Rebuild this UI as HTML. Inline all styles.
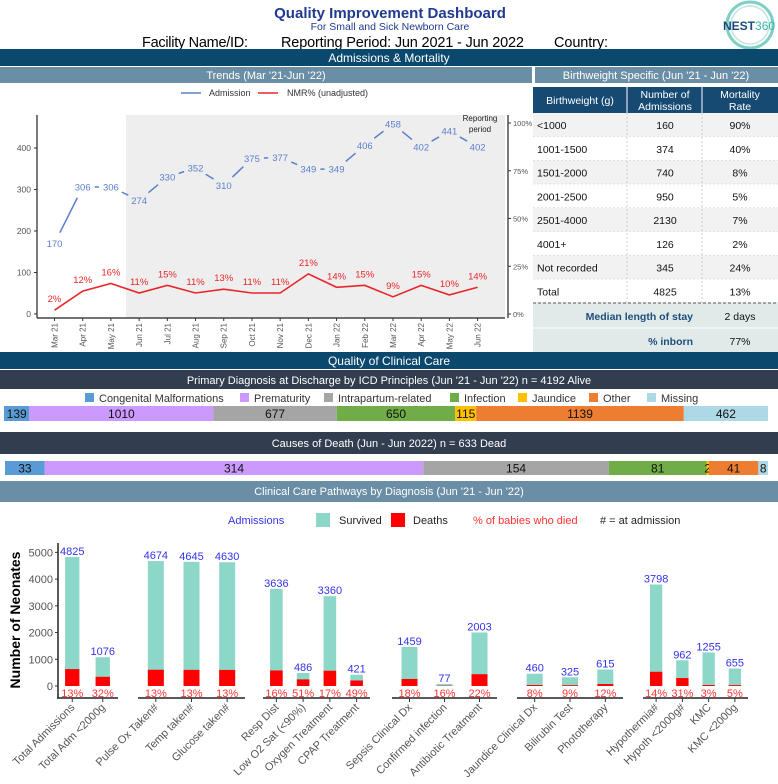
<!DOCTYPE html>
<html><head><meta charset="utf-8"><style>
html,body{margin:0;padding:0;background:#fff;}
svg{display:block;font-family:"Liberation Sans",sans-serif;}
</style></head><body>
<svg id="s" width="778" height="784" viewBox="0 0 778 784" xmlns="http://www.w3.org/2000/svg">
<!-- header -->
<text x="390" y="18" text-anchor="middle" font-size="15" font-weight="bold" fill="#1f3a8f">Quality Improvement Dashboard</text>
<text x="390" y="30" text-anchor="middle" font-size="10.5" fill="#1f3a8f">For Small and Sick Newborn Care</text>
<text x="142" y="47" font-size="14.5" fill="#000" textLength="106">Facility Name/ID:</text>
<text x="281" y="47" font-size="14.5" fill="#000" textLength="243">Reporting Period: Jun 2021 - Jun 2022</text>
<text x="554" y="47" font-size="14.5" fill="#000" textLength="54">Country:</text>
<g>
<circle cx="750" cy="25" r="23" fill="none" stroke="#7fcfc4" stroke-width="3"/>
<circle cx="750" cy="25" r="19" fill="none" stroke="#bfe8e2" stroke-width="1.5"/>
<text x="723" y="30" font-size="12" font-weight="bold" fill="#1a4a7a">NEST<tspan fill="#3bb3a8" font-weight="normal">360</tspan></text>
</g>
<!-- bands -->
<rect x="0" y="49" width="778" height="17" fill="#0b486e"/>
<text x="389" y="62" text-anchor="middle" font-size="12" fill="#fff">Admissions &amp; Mortality</text>
<rect x="0" y="67" width="532" height="16" fill="#6a8ea6"/>
<text x="266" y="79" text-anchor="middle" font-size="11" fill="#fff">Trends (Mar '21-Jun '22)</text>
<rect x="535" y="67" width="243" height="16" fill="#6a8ea6"/>
<text x="656" y="79" text-anchor="middle" font-size="11" fill="#fff">Birthweight Specific (Jun '21 - Jun '22)</text>
<!-- trend chart -->
<g id="trend">
<rect x="126" y="115" width="379" height="203" fill="#eeeeee"/>
<text x="480" y="121" text-anchor="middle" font-size="8" fill="#222">Reporting</text>
<text x="480" y="132" text-anchor="middle" font-size="8" fill="#222">period</text>
<line x1="181" y1="93" x2="201" y2="93" stroke="#5b7fcc" stroke-width="1.5"/>
<text x="209" y="96" font-size="9" fill="#333">Admission</text>
<line x1="258" y1="93" x2="278" y2="93" stroke="#e8262a" stroke-width="1.5"/>
<text x="287" y="96" font-size="9" fill="#333">NMR% (unadjusted)</text>
</g>
<!-- table -->
<g id="table"></g>
<!-- quality section -->
<rect x="0" y="352" width="778" height="17" fill="#0b486e"/>
<text x="389" y="365" text-anchor="middle" font-size="12" fill="#fff">Quality of Clinical Care</text>
<rect x="0" y="370" width="778" height="19" fill="#323e4f"/>
<text x="389" y="384" text-anchor="middle" font-size="11" fill="#fff">Primary Diagnosis at Discharge by ICD Principles (Jun '21 - Jun '22) n = 4192 Alive</text>
<g id="diag"></g>
<rect x="0" y="432" width="778" height="22" fill="#323e4f"/>
<text x="389" y="447" text-anchor="middle" font-size="11" fill="#fff">Causes of Death (Jun - Jun 2022) n = 633 Dead</text>
<g id="death"></g>
<rect x="0" y="481" width="778" height="21" fill="#6a8ea6"/>
<text x="389" y="495" text-anchor="middle" font-size="11" fill="#fff">Clinical Care Pathways by Diagnosis (Jun '21 - Jun '22)</text>
<g>
<text x="228" y="524" font-size="11" fill="#3333ee">Admissions</text>
<rect x="316" y="513" width="14" height="14" fill="#8dd7c8"/>
<text x="339" y="524" font-size="11" fill="#222">Survived</text>
<rect x="391" y="513" width="14" height="14" fill="#ff0000"/>
<text x="413" y="524" font-size="11" fill="#222">Deaths</text>
<text x="473" y="524" font-size="11" fill="#ff3333">% of babies who died</text>
<text x="600" y="524" font-size="11" fill="#222"># = at admission</text>
</g>
<g id="path">
<text transform="translate(20,620) rotate(-90)" text-anchor="middle" font-size="14" font-weight="bold" fill="#000">Number of Neonates</text>
</g>
</svg>
<script>
// ---------- Trend chart data ----------
const months = ["Mar 21","Apr 21","May 21","Jun 21","Jul 21","Aug 21","Sep 21","Oct 21","Nov 21","Dec 21","Jan 22","Feb 22","Mar 22","Apr 22","May 22","Jun 22"];
const admissions = [170,306,306,274,330,352,310,375,377,349,349,406,458,402,441,402];
const nmr = [2,12,16,11,15,11,13,11,11,21,14,15,9,15,10,14];
const admTicks = [0,100,200,300,400];
const pctTicks = [0,25,50,75,100];
// ---------- Table data ----------
const bwCats = ["<1000","1001-1500","1501-2000","2001-2500","2501-4000","4001+","Not recorded","Total"];
const bwAdm = ["160","374","740","950","2130","126","345","4825"];
const bwMort = ["90%","40%","8%","5%","7%","2%","24%","13%"];
// ---------- Diagnosis bars ----------
const diagCats = ["Congenital Malformations","Prematurity","Intrapartum-related","Infection","Jaundice","Other","Missing"];
const diagVals = [139,1010,677,650,115,1139,462];
const deathVals = [33,314,154,81,2,41,8];
const diagColors = ["#5b9bd5","#cc99ff","#a5a5a5","#70ad47","#ffc000","#ed7d31","#add8e6"];
// ---------- Pathways data ----------
const pathCats = ["Total Admissions","Total Adm <2000g","Pulse Ox Taken#","Temp taken#","Glucose taken#","Resp Dist","Low O2 Sat (<90%)","Oxygen Treatment","CPAP Treatment","Sepsis Clinical Dx","Confirmed infection","Antibiotic Treatment","Jaundice Clinical Dx","Bilirubin Test","Phototherapy","Hypothermia#","Hypoth <2000g#","KMC","KMC <2000g"];
const pathGroup = [0,0,1,1,1,2,2,2,2,3,3,3,4,4,4,5,5,5,5];
const pathTotal = [4825,1076,4674,4645,4630,3636,486,3360,421,1459,77,2003,460,325,615,3798,962,1255,655];
const pathDeaths = [633,344,608,604,602,582,248,571,206,263,12,441,37,29,74,532,298,38,33];
const pathPct = ["13%","32%","13%","13%","13%","16%","51%","17%","49%","18%","16%","22%","8%","9%","12%","14%","31%","3%","5%"];
const pathYTicks = [0,1000,2000,3000,4000,5000];

const NS="http://www.w3.org/2000/svg";
function mk(tag,attrs,parent,txt){const e=document.createElementNS(NS,tag);for(const k in attrs)e.setAttribute(k,attrs[k]);if(txt!==undefined)e.textContent=txt;parent.appendChild(e);return e;}

// ---- trend chart ----
const tg=document.getElementById('trend');
const xT=i=>54.5+i*(477.6-54.5)/(months.length-1);
const yA=v=>314-v*0.415;
const yP=p=>314-p*1.91;
mk('line',{x1:37,y1:115,x2:37,y2:318,stroke:'#222','stroke-width':1.2},tg);
mk('line',{x1:37,y1:318,x2:505,y2:318,stroke:'#222','stroke-width':1.2},tg);
mk('line',{x1:508,y1:115,x2:508,y2:318,stroke:'#222','stroke-width':1.2},tg);
admTicks.forEach(t=>{mk('line',{x1:34,y1:yA(t),x2:37,y2:yA(t),stroke:'#333'},tg);
 const e=mk('text',{x:31,y:yA(t)+3,'text-anchor':'end','font-size':8.5,fill:'#555'},tg,String(t));
 
 });
pctTicks.forEach(t=>{mk('line',{x1:508,y1:yP(t),x2:511,y2:yP(t),stroke:'#333'},tg);
 const e=mk('text',{x:513,y:yP(t)+3,'font-size':7.5,fill:'#555'},tg,t+'%');
 
 });
months.forEach((m,i)=>{const x=xT(i);mk('line',{x1:x,y1:318,x2:x,y2:321,stroke:'#333'},tg);
 const e=mk('text',{transform:`translate(${x+3},323) rotate(-90)`,'text-anchor':'end','font-size':8,fill:'#555'},tg,m);
 
 });
// admissions line with gaps
for(let i=0;i<admissions.length-1;i++){
 const x1=xT(i),y1=yA(admissions[i]),x2=xT(i+1),y2=yA(admissions[i+1]);
 const L=Math.hypot(x2-x1,y2-y1),g=12; if(L<=2*g)continue;
 const ux=(x2-x1)/L,uy=(y2-y1)/L;
 const e=mk('line',{x1:x1+ux*g,y1:y1+uy*g,x2:x2-ux*g,y2:y2-uy*g,stroke:'#5b7fcc','stroke-width':1.5},tg);
 
 
}
admissions.forEach((v,i)=>{const e=mk('text',{x:xT(i),y:yA(v)+3.5,'text-anchor':'middle','font-size':9.5,fill:'#5b7fcc'},tg,String(v));
 
 });
const nl=mk('polyline',{points:nmr.map((p,i)=>xT(i)+','+yP(p)).join(' '),fill:'none',stroke:'#e8262a','stroke-width':1.6},tg);


nmr.forEach((p,i)=>{const e=mk('text',{x:xT(i),y:yP(p)-8,'text-anchor':'middle','font-size':9.5,fill:'#e8262a'},tg,p+'%');
 
 });

// ---- table ----
const tb=document.getElementById('table');
mk('rect',{x:533,y:87,width:245,height:26,fill:'#174a73'},tb);
mk('line',{x1:627,y1:87,x2:627,y2:113,stroke:'#fff'},tb);
mk('line',{x1:702,y1:87,x2:702,y2:113,stroke:'#fff'},tb);
mk('text',{x:580,y:104,'text-anchor':'middle','font-size':10.5,fill:'#fff'},tb,'Birthweight (g)');
mk('text',{x:665,y:98,'text-anchor':'middle','font-size':10.5,fill:'#fff'},tb,'Number of');
mk('text',{x:665,y:110,'text-anchor':'middle','font-size':10.5,fill:'#fff'},tb,'Admissions');
mk('text',{x:740,y:98,'text-anchor':'middle','font-size':10.5,fill:'#fff'},tb,'Mortality');
mk('text',{x:740,y:110,'text-anchor':'middle','font-size':10.5,fill:'#fff'},tb,'Rate');
const rh=23.75;
bwCats.forEach((c,i)=>{const y0=113+i*rh;
 const r=mk('rect',{x:533,y:y0,width:245,height:rh,fill:i%2===0?'#f2f2f2':'#ffffff'},tb);
 
 
 mk('line',{x1:533,y1:y0+rh,x2:778,y2:y0+rh,stroke:'#ccc','stroke-dasharray':'2,2'},tb);
 mk('text',{x:537,y:y0+16,'font-size':10.5,fill:'#111'},tb,c);
 mk('text',{x:665,y:y0+16,'text-anchor':'middle','font-size':10.5,fill:'#111'},tb,bwAdm[i]);
 mk('text',{x:740,y:y0+16,'text-anchor':'middle','font-size':10.5,fill:'#111'},tb,bwMort[i]);
});
mk('line',{x1:627,y1:113,x2:627,y2:303,stroke:'#ccc','stroke-dasharray':'2,2'},tb);
mk('line',{x1:702,y1:113,x2:702,y2:353,stroke:'#ccc','stroke-dasharray':'2,2'},tb);
mk('rect',{x:533,y:303,width:245,height:50,fill:'#dfeae9'},tb);
mk('line',{x1:533,y1:303,x2:778,y2:303,stroke:'#555','stroke-dasharray':'3,2'},tb);
mk('line',{x1:533,y1:328,x2:778,y2:328,stroke:'#fff'},tb);
mk('text',{x:693,y:320,'text-anchor':'end','font-size':10.5,'font-weight':'bold',fill:'#1f4e79'},tb,'Median length of stay');
mk('text',{x:740,y:320,'text-anchor':'middle','font-size':10.5,fill:'#111'},tb,'2 days');
mk('text',{x:693,y:345,'text-anchor':'end','font-size':10.5,'font-weight':'bold',fill:'#1f4e79'},tb,'% inborn');
mk('text',{x:740,y:345,'text-anchor':'middle','font-size':10.5,fill:'#111'},tb,'77%');

// ---- diagnosis & death stacked bars ----
const dg=document.getElementById('diag');
const legX=[85,240,324,450,518,589,647];
diagCats.forEach((c,i)=>{mk('rect',{x:legX[i],y:393,width:9,height:9,fill:diagColors[i]},dg);
 const e=mk('text',{x:legX[i]+14,y:402,'font-size':11,fill:'#333'},dg,c);
 
 });
function stack(g,vals,y,h,x0,x1,name){const tot=vals.reduce((a,b)=>a+b,0);let acc=0;
 vals.forEach((v,i)=>{const xa=x0+(x1-x0)*acc/tot,w=(x1-x0)*v/tot;acc+=v;
  const r=mk('rect',{x:xa,y:y,width:w,height:h,fill:diagColors[i]},g);
  
  
  mk('text',{x:xa+w/2,y:y+h/2+4.5,'text-anchor':'middle','font-size':12,fill:'#111'},g,String(v));
 });}
stack(dg,diagVals,406,15,4,768,'diagnosis-segment');
stack(document.getElementById('death'),deathVals,461,14,5,768,'death-cause-segment');

// ---- pathways chart ----
const pg=document.getElementById('path');
const groups=[[57,118],[138,245],[263,370],[392,497],[517,623],[643,748]];
const yB=v=>686-v*0.02673;
const cnt=groups.map((g,k)=>pathGroup.filter(x=>x===k).length);
mk('line',{x1:58,y1:543,x2:58,y2:698,stroke:'#222','stroke-width':1.5},pg);
pathYTicks.forEach(t=>{mk('line',{x1:55,y1:yB(t),x2:58,y2:yB(t),stroke:'#333'},pg);
 const e=mk('text',{x:53,y:yB(t)+4,'text-anchor':'end','font-size':11,fill:'#555'},pg,String(t));
 
 });
groups.forEach(g=>{mk('line',{x1:g[0],y1:698,x2:g[1],y2:698,stroke:'#222','stroke-width':1.5},pg);});
const seen=[0,0,0,0,0,0];
pathCats.forEach((c,i)=>{const k=pathGroup[i],g=groups[k],band=(g[1]-g[0])/cnt[k];
 const cx=g[0]+(seen[k]+0.5)*band;seen[k]++;const bw=Math.min(16,band*0.47);
 const s=mk('rect',{x:cx-bw/2,y:yB(pathTotal[i]),width:bw,height:686-yB(pathTotal[i]),fill:'#8dd7c8'},pg);
 
 
 const d=mk('rect',{x:cx-bw/2,y:yB(pathDeaths[i]),width:bw,height:686-yB(pathDeaths[i]),fill:'#ff0000'},pg);
 
 
 const t=mk('text',{x:cx,y:yB(pathTotal[i])-2,'text-anchor':'middle','font-size':11,fill:'#3333ee'},pg,String(pathTotal[i]));
 
 
 const p=mk('text',{x:cx,y:697,'text-anchor':'middle','font-size':11,fill:'#ff3333'},pg,pathPct[i]);
 
 
 mk('line',{x1:cx,y1:698,x2:cx,y2:702,stroke:'#333'},pg);
 const l=mk('text',{transform:`translate(${cx+3},708) rotate(-45)`,'text-anchor':'end','font-size':11,fill:'#555'},pg,c);
 
 
});
</script>
</body></html>
